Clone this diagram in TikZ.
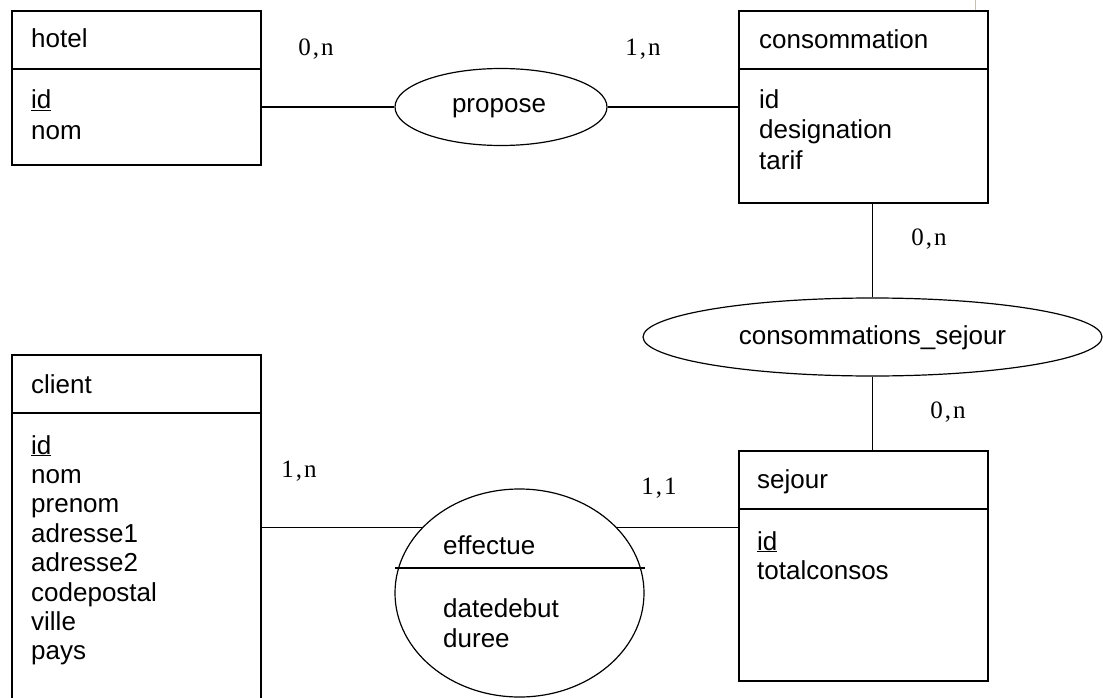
\documentclass[tikz,border=0pt]{standalone}
\usepackage{fontspec}
\setmainfont{Liberation Sans}
\newfontfamily\cardfont[LetterSpace=8]{Liberation Serif}
\usetikzlibrary{shapes.geometric}
\definecolor{edgegray}{RGB}{200,192,178}
\begin{document}
\begin{tikzpicture}[x=1pt,y=-1pt,
  entity/.style={draw, rectangle, inner sep=0pt, line width=1.6pt},
  assoc/.style={draw, ellipse, inner sep=0pt, line width=1.2pt},
  sepline/.style={line width=1.5pt},
  txt/.style={inner sep=0pt, anchor=base west, font=\fontsize{26}{30}\selectfont},
  ctxt/.style={inner sep=0pt, anchor=base, font=\fontsize{26}{30}\selectfont},
  card/.style={inner sep=0pt, anchor=base, font=\cardfont\fontsize{25}{28}\selectfont},
  link/.style={draw, line width=1.4pt}]
\useasboundingbox (0,0) rectangle (1103,698);

% entities
\node[entity, minimum width=249pt, minimum height=154pt] (hotel) at (136.5,88) {};
\node[entity, minimum width=249pt, minimum height=192pt] (consommation) at (863.5,107) {};
\node[entity, minimum width=249pt, minimum height=350pt] (client) at (136.5,530) {};
\node[entity, minimum width=249pt, minimum height=230pt] (sejour) at (863.5,566) {};

\draw[sepline] (12,69) -- (261,69);
\draw[sepline] (739,69) -- (988,69);
\draw[sepline] (12,413) -- (261,413);
\draw[sepline] (739,509) -- (988,509);

% associations
\node[assoc, minimum width=212pt, minimum height=77pt] (propose) at (501,107) {};
\node[assoc, minimum width=459pt, minimum height=78pt] (cs) at (872.5,337) {};
\node[assoc, minimum width=249pt, minimum height=208pt] (effectue) at (519.5,593) {};
\draw[line width=1.2pt] (395,568) -- (645,568);

% connectors
\draw[link] (hotel.east |- propose.west) -- (propose.west);
\draw[link] (propose.east) -- (propose.east -| consommation.west);
\draw[link] (cs.north |- consommation.south) -- (cs.north);
\draw[link] (cs.south) -- (cs.south |- sejour.north);
\draw[link] (effectue.146) -- (effectue.146 -| client.east);
\draw[link] (effectue.34) -- (effectue.34 -| sejour.west);

% small edge mark at top
\draw[edgegray, line width=1pt] (975,0) -- (975,10);

% texts: hotel
\node[txt] (t-hotel) at (31,48) {hotel};
\node[txt] (t-hotel-id) at (31,109) {\underline{id}};
\node[txt] (t-hotel-nom) at (31,140) {nom};

% consommation
\node[txt] (t-conso) at (759,49) {consommation};
\node[txt] (t-conso-id) at (759,109) {id};
\node[txt] (t-conso-des) at (759,139) {designation};
\node[txt] (t-conso-tarif) at (759,169) {tarif};

% client
\node[txt] (t-client) at (31,393) {client};
\node[txt] (t-client-1) at (31,454) {\underline{id}};
\node[txt] (t-client-2) at (31,483.4) {nom};
\node[txt] (t-client-3) at (31,512.8) {prenom};
\node[txt] (t-client-4) at (31,542.2) {adresse1};
\node[txt] (t-client-5) at (31,571.6) {adresse2};
\node[txt] (t-client-6) at (31,601) {codepostal};
\node[txt] (t-client-7) at (31,630.4) {ville};
\node[txt] (t-client-8) at (31,659.8) {pays};

% sejour
\node[txt] (t-sejour) at (757,488) {sejour};
\node[txt] (t-sejour-id) at (757,550) {\underline{id}};
\node[txt] (t-sejour-tot) at (757,579) {totalconsos};

% associations text
\node[ctxt] (t-propose) at (499,113) {propose};
\node[ctxt] (t-cs) at (872.5,344) {consommations\_sejour};
\node[txt] (t-eff) at (443,554) {effectue};
\node[txt] (t-eff-1) at (443,617) {datedebut};
\node[txt] (t-eff-2) at (443,647) {duree};

% cardinalities
\node[card] (c1) at (316,56) {0,n};
\node[card] (c2) at (643,56) {1,n};
\node[card] (c3) at (929,245) {0,n};
\node[card] (c4) at (948,418) {0,n};
\node[card] (c5) at (299,477) {1,n};
\node[card] (c6) at (659,494) {1,1};
\end{tikzpicture}
\end{document}
